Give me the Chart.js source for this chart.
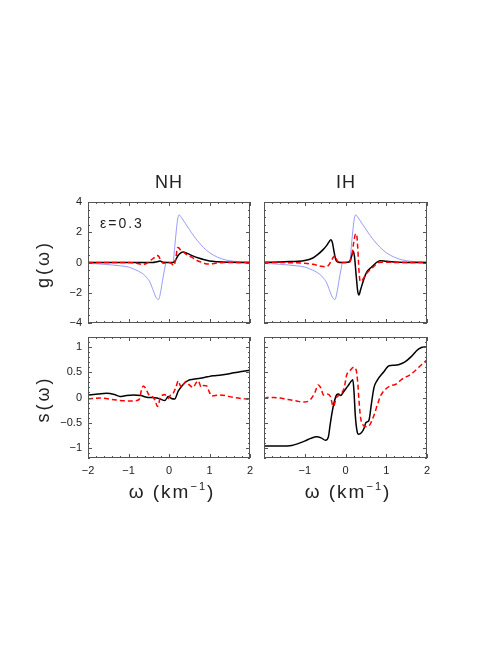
<!DOCTYPE html>
<html>
<head>
<meta charset="utf-8">
<script src="https://cdn.jsdelivr.net/npm/chart.js@4.4.1/dist/chart.umd.min.js"></script>
<style>
  body { margin: 0; background: #fff; }
  #wrap { position: relative; width: 498px; height: 645px; font-family: "Liberation Sans", Arial, sans-serif; color: #222; }
  canvas { position: absolute; }
  .lbl { position: absolute; white-space: nowrap; line-height: 1; }
</style>
</head>
<body>
<div id="wrap">
  <canvas id="gNH" style="left:0px;top:190px;width:255px;height:143px" width="255" height="143"></canvas>
  <canvas id="gIH" style="left:255px;top:190px;width:180px;height:143px" width="180" height="143"></canvas>
  <canvas id="sNH" style="left:0px;top:330px;width:255px;height:150px" width="255" height="150"></canvas>
  <canvas id="sIH" style="left:255px;top:330px;width:180px;height:150px" width="180" height="150"></canvas>

  <div class="lbl" style="left:169px;top:182px;font-size:18px;letter-spacing:1px;transform:translate(-50%,-50%)">NH</div>
  <div class="lbl" style="left:346px;top:182px;font-size:18px;letter-spacing:1px;transform:translate(-50%,-50%)">IH</div>
  <div class="lbl" style="left:43px;top:264px;font-size:18px;letter-spacing:3px;transform:translate(-50%,-50%) rotate(-90deg)">g(ω)</div>
  <div class="lbl" style="left:43px;top:399px;font-size:18px;letter-spacing:3px;transform:translate(-50%,-50%) rotate(-90deg)">s(ω)</div>
  <div class="lbl" style="left:100px;top:216px;font-size:14px;letter-spacing:2px">ε=0.3</div>
  <div class="lbl" style="left:172px;top:491px;font-size:19px;letter-spacing:2px;transform:translate(-50%,-50%)">ω (km<sup style="font-size:11px">−1</sup>)</div>
  <div class="lbl" style="left:348px;top:491px;font-size:19px;letter-spacing:2px;transform:translate(-50%,-50%)">ω (km<sup style="font-size:11px">−1</sup>)</div>
</div>
<script>
// axis ticks
const xTicks = [-2, -1, 0, 1, 2];
const gTicks = [-4, -2, 0, 2, 4];
const sTicks = [-1, -0.5, 0, 0.5, 1];

// g(omega), thin blue reference curve (same in NH and IH)
const blueX = [-2, -1.6, -1.2, -1.0, -0.88, -0.75, -0.63, -0.55, -0.47, -0.39, -0.32, -0.26, -0.21, -0.16, -0.11, -0.07, 0.0, 0.1, 0.14, 0.18, 0.21, 0.25, 0.3, 0.4, 0.5, 0.6, 0.7, 0.85, 1.0, 1.2, 1.4, 1.6, 2.0];
const blueY = [-0.05, -0.12, -0.22, -0.3, -0.42, -0.58, -0.78, -1.0, -1.3, -1.85, -2.3, -2.45, -2.0, -1.2, -0.45, 0, 0, 0, 1.0, 2.1, 2.8, 3.15, 3.0, 2.6, 2.2, 1.8, 1.45, 1.0, 0.65, 0.35, 0.17, 0.08, 0.02];

// g(omega) NH
const gNHblackX = [-2, -0.4, -0.3, -0.22, -0.15, 0.1, 0.15, 0.22, 0.3, 0.35, 0.45, 0.6, 0.75, 0.85, 1.0, 1.2, 1.5, 2.0];
const gNHblackY = [0, 0, 0.05, 0.1, 0.02, 0, 0.1, 0.45, 0.65, 0.69, 0.6, 0.42, 0.28, 0.2, 0.1, 0.05, 0.02, 0];
const gNHredX = [-2, -1.0, -0.8, -0.67, -0.55, -0.45, -0.35, -0.3, -0.25, -0.2, -0.12, -0.05, 0.05, 0.12, 0.17, 0.21, 0.25, 0.3, 0.35, 0.45, 0.56, 0.68, 0.8, 0.9, 1.0, 1.2, 1.5, 2.0];
const gNHredY = [0, 0, -0.05, -0.13, -0.05, 0.15, 0.35, 0.47, 0.4, 0.1, -0.05, 0, -0.05, -0.2, 0.3, 1.0, 0.95, 0.75, 0.69, 0.5, 0.35, 0.15, 0.02, -0.08, -0.1, -0.03, 0, 0];

// g(omega) IH
const gIHblackX = [-2, -1.5, -1.0, -0.8, -0.67, -0.55, -0.46, -0.4, -0.36, -0.32, -0.28, -0.24, -0.2, -0.1, 0.05, 0.11, 0.16, 0.19, 0.22, 0.26, 0.3, 0.33, 0.37, 0.45, 0.52, 0.6, 0.68, 0.76, 0.85, 1.0, 1.3, 2.0];
const gIHblackY = [0.01, 0.05, 0.13, 0.3, 0.55, 0.85, 1.13, 1.38, 1.51, 1.3, 0.7, 0.2, 0.05, 0.0, 0.02, 0.1, 0.5, 0.75, 0.4, -0.8, -1.9, -2.15, -1.8, -1.1, -0.64, -0.4, -0.2, 0.0, 0.12, 0.08, 0.02, 0];
const gIHredX = [-2, -1.2, -1.0, -0.8, -0.6, -0.5, -0.42, -0.35, -0.3, -0.26, -0.22, -0.15, 0.0, 0.1, 0.15, 0.2, 0.24, 0.27, 0.3, 0.33, 0.36, 0.4, 0.48, 0.56, 0.64, 0.72, 0.8, 1.0, 1.3, 2.0];
const gIHredY = [0, -0.02, -0.05, -0.12, -0.25, -0.28, -0.2, 0.1, 0.35, 0.47, 0.2, 0, 0, 0.02, 0.4, 1.3, 1.85, 1.9, 1.0, -0.5, -1.25, -1.2, -0.87, -0.6, -0.4, -0.2, 0, 0.02, 0, 0];

// s(omega) NH
const sNHblackX = [-2, -1.75, -1.54, -1.35, -1.21, -1.05, -0.88, -0.7, -0.51, -0.4, -0.3, -0.22, -0.1, -0.02, 0.06, 0.14, 0.23, 0.35, 0.48, 0.6, 0.77, 0.95, 1.09, 1.25, 1.42, 1.6, 1.75, 2.0];
const sNHblackY = [0.05, 0.07, 0.085, 0.06, 0.02, 0.04, 0.05, 0.04, 0.0, 0.0, -0.01, -0.03, -0.06, 0.02, -0.02, -0.03, 0.13, 0.26, 0.34, 0.36, 0.38, 0.41, 0.43, 0.44, 0.46, 0.49, 0.51, 0.54];
const sNHredX = [-2, -1.7, -1.3, -0.97, -0.8, -0.73, -0.68, -0.63, -0.57, -0.51, -0.45, -0.39, -0.33, -0.29, -0.25, -0.22, -0.15, -0.1, -0.05, -0.02, 0.03, 0.1, 0.17, 0.23, 0.27, 0.31, 0.37, 0.43, 0.5, 0.6, 0.66, 0.72, 0.8, 0.86, 0.93, 0.99, 1.05, 1.25, 1.6, 2.0];
const sNHredY = [-0.03, -0.01, -0.05, -0.07, -0.06, -0.03, 0.15, 0.23, 0.17, 0.07, 0.03, 0.0, -0.08, -0.18, -0.12, 0.0, 0.05, 0.06, 0.0, -0.02, 0.04, 0.08, 0.2, 0.33, 0.25, 0.2, 0.28, 0.32, 0.25, 0.2, 0.28, 0.33, 0.2, 0.24, 0.23, 0.12, 0.03, 0.05, 0.0, -0.04];

// s(omega) IH
const sIHblackX = [-2, -1.6, -1.32, -1.15, -0.99, -0.85, -0.71, -0.6, -0.49, -0.42, -0.38, -0.33, -0.28, -0.22, -0.17, -0.12, -0.05, 0.05, 0.15, 0.18, 0.21, 0.24, 0.28, 0.32, 0.39, 0.45, 0.5, 0.54, 0.58, 0.64, 0.7, 0.77, 0.93, 1.07, 1.2, 1.3, 1.45, 1.6, 1.79, 1.93, 2.0];
const sIHblackY = [-0.96, -0.96, -0.95, -0.91, -0.86, -0.81, -0.78, -0.8, -0.85, -0.78, -0.56, -0.3, -0.1, 0.05, 0.07, 0.04, 0.11, 0.22, 0.33, 0.35, 0.1, -0.35, -0.65, -0.73, -0.7, -0.62, -0.5, -0.48, -0.44, -0.1, 0.2, 0.33, 0.5, 0.63, 0.64, 0.65, 0.7, 0.8, 0.96, 1.0, 1.0];
const sIHredX = [-2, -1.92, -1.76, -1.41, -1.2, -1.02, -0.87, -0.75, -0.67, -0.6, -0.54, -0.45, -0.37, -0.3, -0.22, -0.1, -0.03, 0.03, 0.1, 0.2, 0.26, 0.3, 0.33, 0.37, 0.45, 0.52, 0.58, 0.7, 0.78, 0.86, 0.99, 1.13, 1.23, 1.38, 1.6, 1.8, 2.0];
const sIHredY = [-0.03, 0.0, 0.0, -0.04, -0.07, -0.09, -0.05, 0.1, 0.25, 0.18, 0.05, 0.07, 0.02, -0.18, 0.0, 0.08, 0.2, 0.45, 0.52, 0.6, 0.55, 0.3, -0.05, -0.4, -0.56, -0.58, -0.56, -0.35, -0.15, 0.03, 0.17, 0.24, 0.26, 0.36, 0.46, 0.6, 0.75];

function pts(xs, ys) { return xs.map((x, i) => ({x: x, y: ys[i]})); }
function steps(a, b, st) { const out = []; for (let v = a; v <= b + 1e-9; v += st) out.push(Math.round(v * 1000) / 1000); return out; }
const fmt = v => (v < 0 ? '\u2212' : '') + Math.abs(v);

// frame with inward ticks on all four sides
const frameTicks = {
  id: 'frameTicks',
  afterDatasetsDraw(chart, args, o) {
    const {ctx, chartArea: a, scales: {x, y}} = chart;
    ctx.save();
    ctx.strokeStyle = '#555';
    ctx.lineWidth = 1;
    ctx.beginPath();
    o.xMinor.forEach(v => {
      const px = Math.round(x.getPixelForValue(v)) + 0.5;
      const len = o.xMajor.includes(v) ? 4 : 2;
      ctx.moveTo(px, a.bottom); ctx.lineTo(px, a.bottom - len);
      ctx.moveTo(px, a.top); ctx.lineTo(px, a.top + len);
    });
    o.yMinor.forEach(v => {
      const py = Math.round(y.getPixelForValue(v)) + 0.5;
      const len = o.yMajor.includes(v) ? 4 : 2;
      ctx.moveTo(a.left, py); ctx.lineTo(a.left + len, py);
      ctx.moveTo(a.right, py); ctx.lineTo(a.right - len, py);
    });
    ctx.stroke();
    ctx.strokeRect(Math.round(a.left) + 0.5, Math.round(a.top) + 0.5, Math.round(a.width) - 1, Math.round(a.height) - 1);
    ctx.restore();
  }
};

function makePanel(id, sets, cfg) {
  const lines = [
    {data: pts(sets.redX, sets.redY), borderColor: 'rgb(255,0,0)', borderWidth: 1.5, borderDash: [5, 3]},
    {data: pts(sets.blackX, sets.blackY), borderColor: '#000', borderWidth: 1.5}
  ];
  if (sets.blue) lines.push({data: pts(blueX, blueY), borderColor: 'rgb(128,128,255)', borderWidth: 0.8});
  lines.forEach(d => { d.pointRadius = 0; d.fill = false; d.cubicInterpolationMode = 'monotone'; });

  return new Chart(document.getElementById(id), {
    type: 'line',
    data: {datasets: lines},
    options: {
      responsive: false,
      animation: false,
      layout: {padding: cfg.pad},
      plugins: {
        legend: {display: false},
        tooltip: {enabled: false},
        frameTicks: {xMinor: steps(-2, 2, 0.2), xMajor: xTicks, yMinor: cfg.yMinor, yMajor: cfg.yTicks}
      },
      scales: {
        x: {
          type: 'linear', min: -2, max: 2,
          border: {display: false},
          grid: {display: false, drawTicks: false},
          afterBuildTicks: s => { s.ticks = xTicks.map(v => ({value: v})); },
          afterFit: s => { s.height = cfg.xh; s.paddingLeft = 0; s.paddingRight = 0; },
          ticks: {
            display: cfg.xLabels, padding: 6, maxRotation: 0, autoSkip: false,
            color: '#222', font: {family: 'Liberation Sans', size: 11},
            callback: v => (cfg.hideX && cfg.hideX.includes(v)) ? '' : fmt(v)
          }
        },
        y: {
          type: 'linear', min: cfg.ymin, max: cfg.ymax,
          border: {display: false},
          grid: {display: false, drawTicks: false},
          afterBuildTicks: s => { s.ticks = cfg.yTicks.map(v => ({value: v})); },
          afterFit: s => { s.width = cfg.yw; s.paddingTop = 0; s.paddingBottom = 0; },
          ticks: {
            display: cfg.yLabels, padding: 6, autoSkip: false,
            color: '#222', font: {family: 'Liberation Sans', size: 11},
            callback: v => fmt(v)
          }
        }
      }
    },
    plugins: [frameTicks]
  });
}

const gMinor = steps(-4, 4, 0.5);
const sMinor = steps(-1.2, 1.2, 0.1);

makePanel('gNH', {redX: gNHredX, redY: gNHredY, blackX: gNHblackX, blackY: gNHblackY, blue: true},
  {pad: {top: 12, right: 5, left: 0, bottom: 0}, xh: 10, yw: 88, ymin: -4, ymax: 4, yTicks: gTicks, yMinor: gMinor, xLabels: false, yLabels: true});
makePanel('gIH', {redX: gIHredX, redY: gIHredY, blackX: gIHblackX, blackY: gIHblackY, blue: true},
  {pad: {top: 12, right: 8, left: 0, bottom: 0}, xh: 10, yw: 9, ymin: -4, ymax: 4, yTicks: gTicks, yMinor: gMinor, xLabels: false, yLabels: false});
makePanel('sNH', {redX: sNHredX, redY: sNHredY, blackX: sNHblackX, blackY: sNHblackY},
  {pad: {top: 7, right: 5, left: 0, bottom: 0}, xh: 22, yw: 88, ymin: -1.2, ymax: 1.2, yTicks: sTicks, yMinor: sMinor, xLabels: true, yLabels: true});
makePanel('sIH', {redX: sIHredX, redY: sIHredY, blackX: sIHblackX, blackY: sIHblackY},
  {pad: {top: 7, right: 8, left: 0, bottom: 0}, xh: 22, yw: 9, ymin: -1.2, ymax: 1.2, yTicks: sTicks, yMinor: sMinor, xLabels: true, yLabels: false, hideX: [-2]});
</script>
</body>
</html>
